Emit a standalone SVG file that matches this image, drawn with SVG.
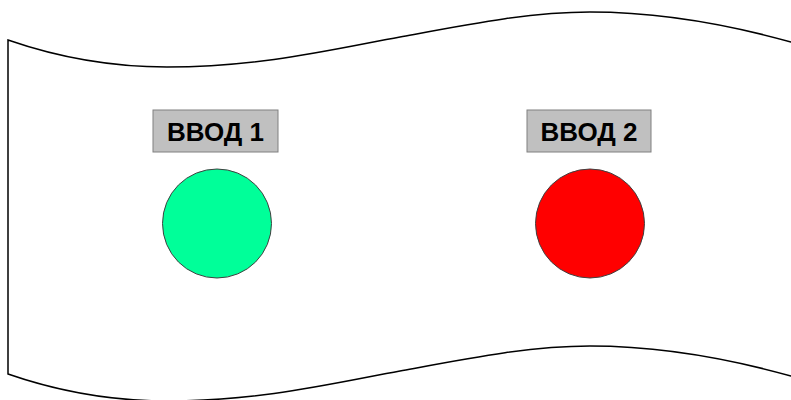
<svg xmlns="http://www.w3.org/2000/svg" width="791" height="400" viewBox="0 0 791 400">
<style>
.lbl{fill:#c0c0c0;stroke:#808080;stroke-width:1}
.txt{font-family:"Liberation Sans",Arial,sans-serif;font-weight:bold;font-size:26px;fill:#000;text-anchor:middle}
.lamp{stroke:#404040;stroke-width:1}
</style>
<rect width="791" height="400" fill="#fff"/>
<g id="tape">
<path d="M8,40 C60,58 110,67 167,67 C260,67 330,50 400,37 C470,24 530,12 590,12 C660,12 730,25 791,42 L810,48 L810,382 L791,376 C730,359 660,346 590,346 C530,346 470,358 400,371 C330,384 260,401 167,401 C110,401 60,392 8,374 Z" fill="#fff" stroke="#000" stroke-width="1.5"/>
</g>
<g id="input1">
<rect class="lbl" x="153" y="110" width="125" height="42"/>
<text class="txt" x="215.5" y="140.5">ВВОД 1</text>
<circle class="lamp" cx="217" cy="223.5" r="54.5" fill="#00ff99"/>
</g>
<g id="input2">
<rect class="lbl" x="527" y="110" width="124" height="42"/>
<text class="txt" x="589" y="140.5">ВВОД 2</text>
<circle class="lamp" cx="590" cy="223.5" r="54.5" fill="#ff0000"/>
</g>
<g id="connectors"/>
</svg>
